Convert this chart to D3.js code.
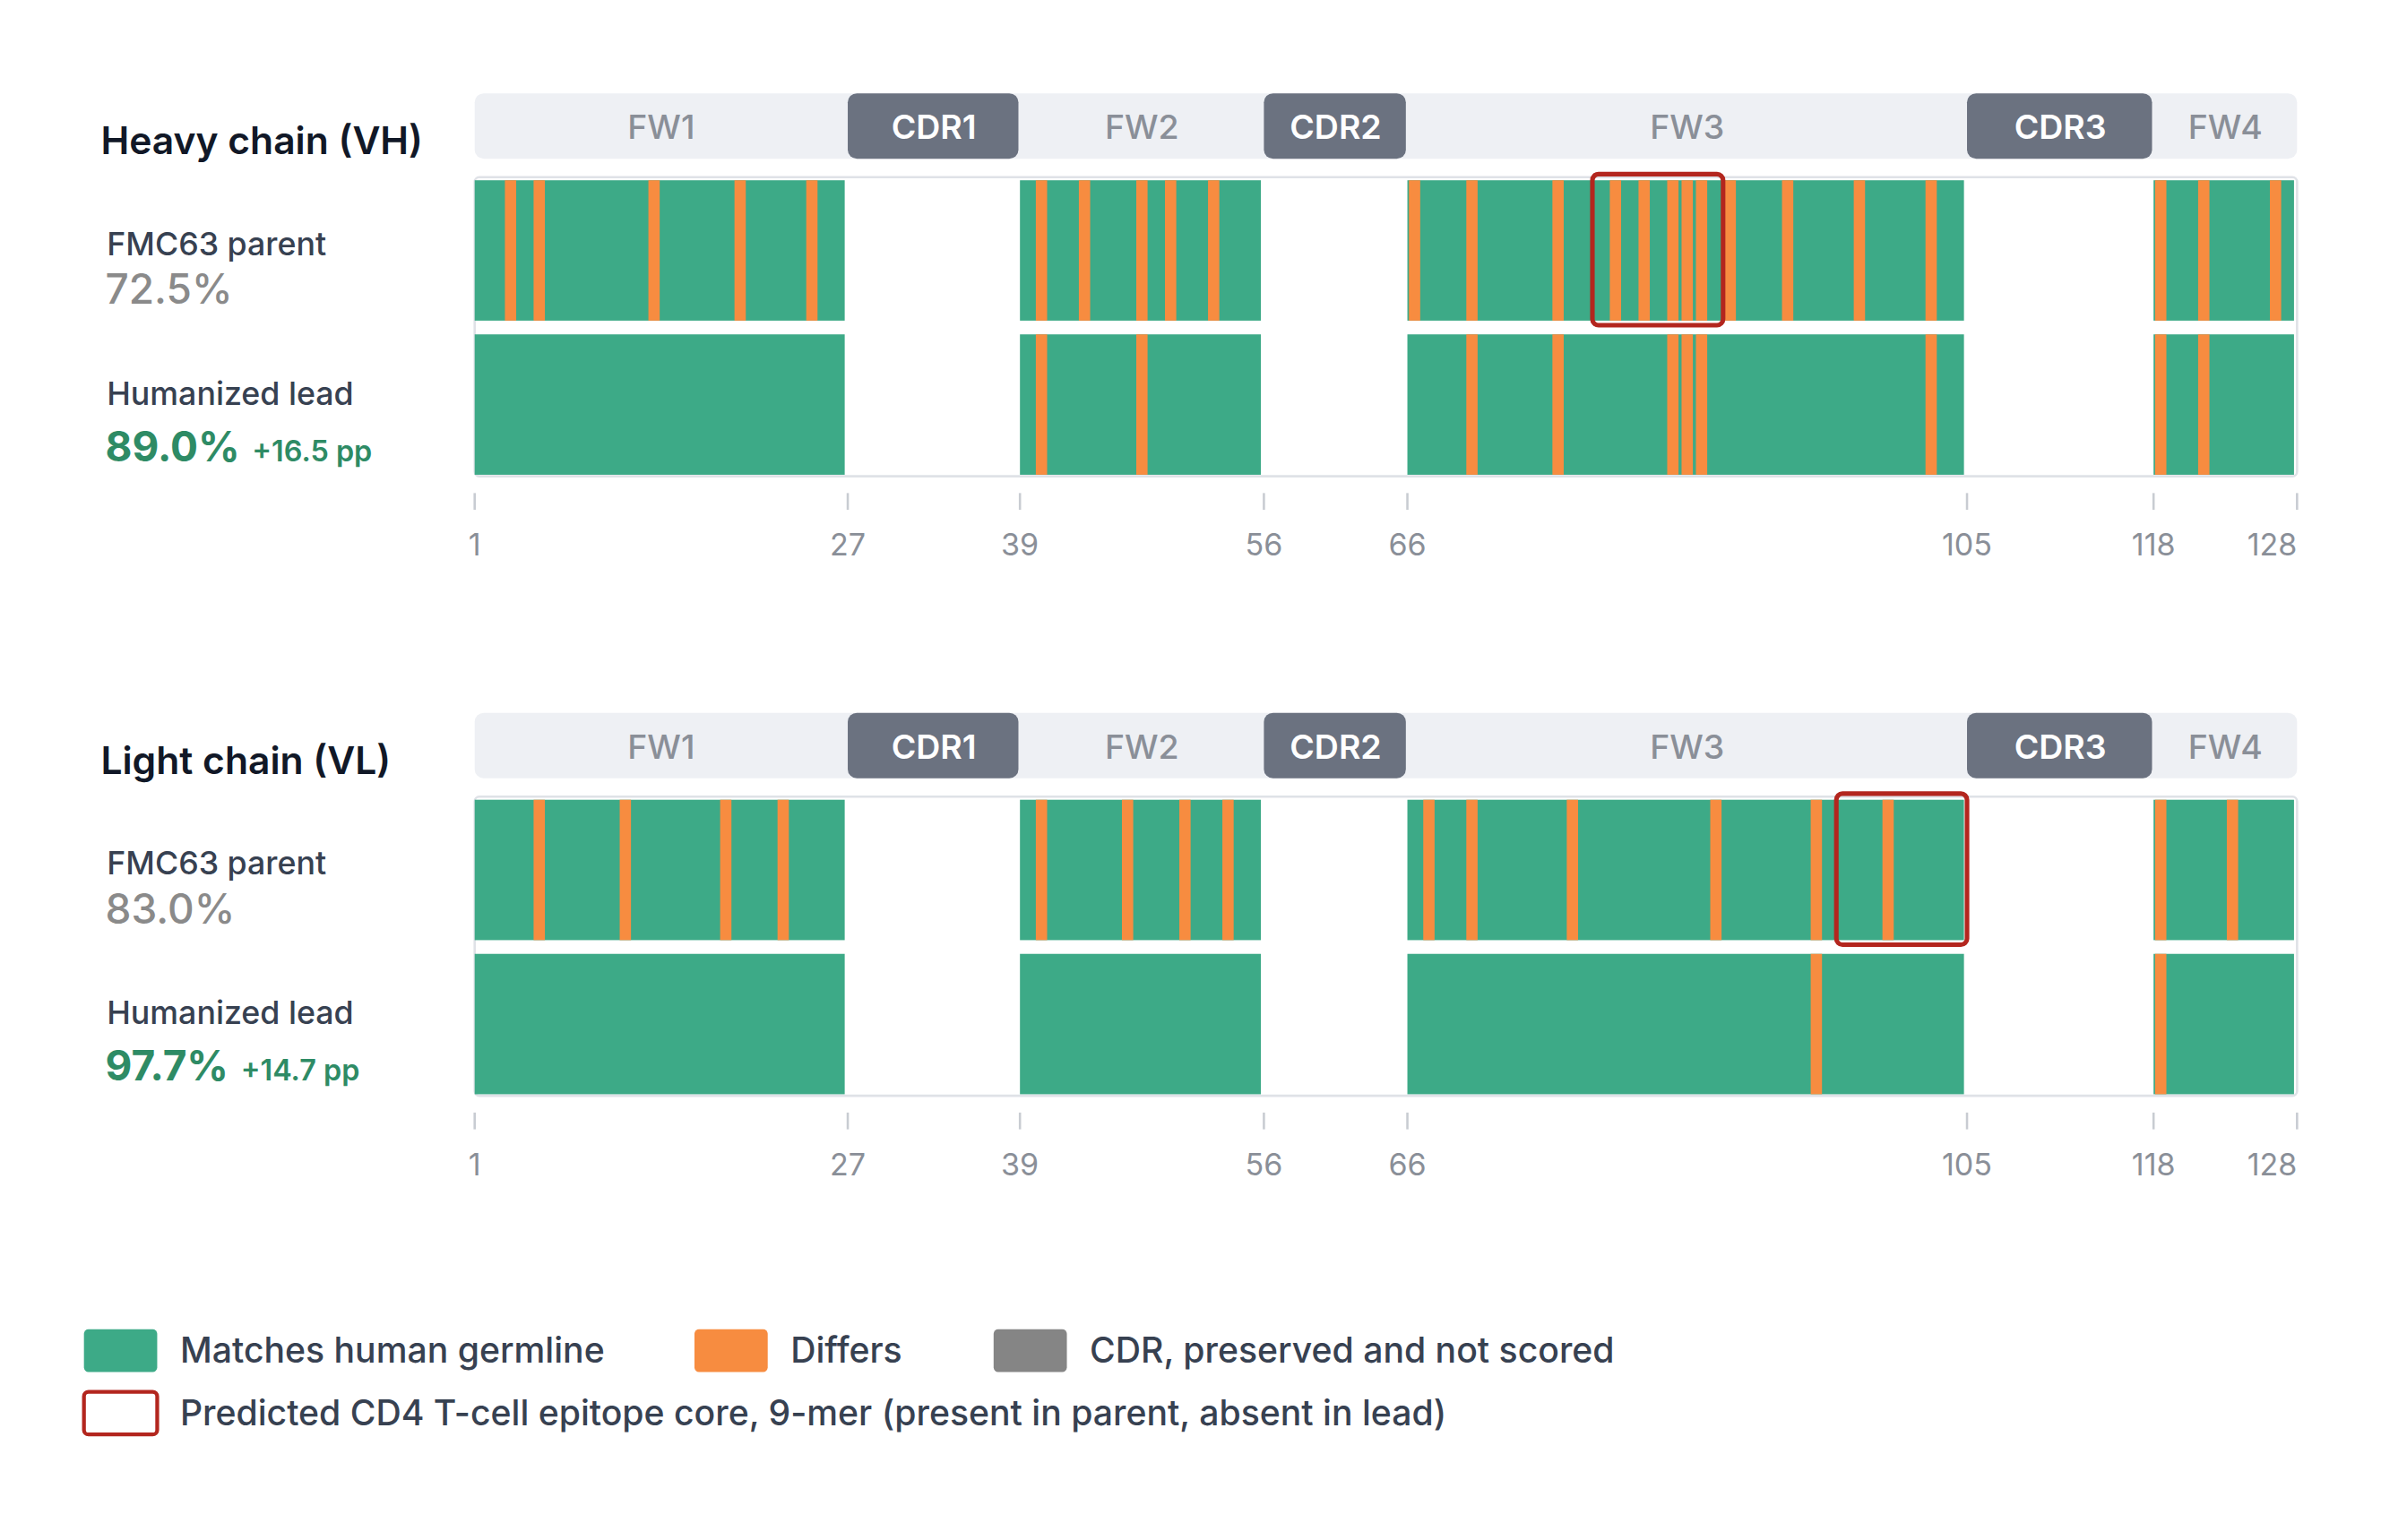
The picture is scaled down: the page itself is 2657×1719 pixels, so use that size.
<!DOCTYPE html>
<html><head><meta charset="utf-8">
<script src="https://cdn.jsdelivr.net/npm/d3@7"></script>
<style>body{margin:0;background:#fff}svg{font-family:Inter,"Noto Sans",sans-serif}</style>
</head><body><svg id="c" width="2657" height="1719" viewBox="0 0 1560 1009"></svg>
<script>
const regions = [
  {name:"FW1",start:1,end:26,cdr:false},{name:"CDR1",start:27,end:38,cdr:true},
  {name:"FW2",start:39,end:55,cdr:false},{name:"CDR2",start:56,end:65,cdr:true},
  {name:"FW3",start:66,end:104,cdr:false},{name:"CDR3",start:105,end:117,cdr:true},
  {name:"FW4",start:118,end:128,cdr:false}];
const tickValues = [1,27,39,56,66,105,118,128];
const chains = [
  {title:"Heavy chain (VH)", parentPct:"72.5%", leadPct:"89.0%", gain:"+16.5 pp",
   parentDiff:[3,5,13,19,24,40,43,47,49,52,66,70,76,80,82,84,85,86,88,92,97,102,118,121,126],
   leadDiff:[40,47,70,76,84,85,86,102,118,121], epitope:[79,87]},
  {title:"Light chain (VL)", parentPct:"83.0%", leadPct:"97.7%", gain:"+14.7 pp",
   parentDiff:[5,11,18,22,40,46,50,53,67,70,77,87,94,99,118,123],
   leadDiff:[94,118], epitope:[96,104]}];
const legendItems = [
  {label:"Matches human germline", color:"#3daa87"},
  {label:"Differs", color:"#f78c40"},
  {label:"CDR, preserved and not scored", color:"#858585"}];

const GREEN="#3daa87", ORANGE="#f78c40", DARK="#6b7280";
const svg = d3.select("#c");
const x = d3.scaleLinear().domain([1,128]).range([311,1505]);
const xe = v => Math.min(x(v), x(128));

chains.forEach((c,ci)=>{
  const g = svg.append("g").attr("transform",`translate(0,${ci*406})`);
  // header
  g.append("rect").attr("x",x(1)).attr("y",61).attr("width",x(128)-x(1)).attr("height",43).attr("rx",6).attr("fill","#eef0f4");
  regions.forEach(r=>{
    const x0=x(r.start), x1=xe(r.end+1);
    if(r.cdr) g.append("rect").attr("x",x0).attr("y",61).attr("width",x1-x0-1).attr("height",43).attr("rx",6).attr("fill",DARK);
    g.append("text").attr("x",(x0+x1)/2).attr("y",91).attr("text-anchor","middle")
      .attr("font-size",22).attr("font-weight",r.cdr?600:500).attr("fill",r.cdr?"#fff":"#8a8f98").text(r.name);
  });
  // border
  g.append("rect").attr("x",x(1)).attr("y",116).attr("width",x(128)-x(1)).attr("height",196).attr("rx",3)
    .attr("fill","none").attr("stroke","#dfe2e7").attr("stroke-width",1.5);
  const rows=[{y:118,diff:c.parentDiff},{y:219,diff:c.leadDiff}];
  rows.forEach(row=>{
    regions.filter(r=>!r.cdr).forEach(r=>{
      g.append("rect").attr("x",x(r.start)).attr("y",row.y).attr("width",xe(r.end+1)-x(r.start)-2).attr("height",92).attr("fill",GREEN);
    });
    row.diff.forEach(p=>{
      g.append("rect").attr("x",x(p)+1).attr("y",row.y).attr("width",Math.min(xe(p+1),x(128))-x(p)-2).attr("height",92).attr("fill",ORANGE);
    });
  });
  // epitope box
  g.append("rect").attr("x",x(c.epitope[0])-1).attr("y",114).attr("width",x(c.epitope[1]+1)-x(c.epitope[0])+1)
    .attr("height",99).attr("rx",4).attr("fill","none").attr("stroke","#b3261e").attr("stroke-width",3);
  // axis
  tickValues.forEach(t=>{
    g.append("line").attr("x1",x(t)).attr("x2",x(t)).attr("y1",323).attr("y2",334).attr("stroke","#c8ccd2").attr("stroke-width",1.5);
    g.append("text").attr("x",x(t)).attr("y",364).attr("text-anchor",t===128?"end":"middle").attr("dx",t===128?0:(t===1?0:0))
      .attr("font-size",20).attr("fill","#8a8f98").text(t);
  });
  // labels
  g.append("text").attr("x",66).attr("y",101).attr("font-size",25).attr("font-weight",600).attr("fill","#111827").text(c.title);
  g.append("text").attr("x",70).attr("y",167).attr("font-size",21).attr("font-weight",500).attr("fill","#374151").text("FMC63 parent");
  g.append("text").attr("x",69).attr("y",199).attr("font-size",27).attr("font-weight",500).attr("fill","#8a8a8a").text(c.parentPct);
  g.append("text").attr("x",70).attr("y",265).attr("font-size",21).attr("font-weight",500).attr("fill","#374151").text("Humanized lead");
  const t=g.append("text").attr("x",69).attr("y",302).attr("fill","#2e8b65");
  t.append("tspan").attr("font-size",27).attr("font-weight",700).text(c.leadPct);
  t.append("tspan").attr("font-size",19).attr("font-weight",600).attr("dx",8).text(c.gain);
});
// legend
const lx=[55,455,651];
legendItems.forEach((l,i)=>{
  svg.append("rect").attr("x",lx[i]).attr("y",871).attr("width",48).attr("height",28).attr("rx",3).attr("fill",l.color);
  svg.append("text").attr("x",lx[i]+63).attr("y",893).attr("font-size",23).attr("font-weight",500).attr("fill","#374151").text(l.label);
});
svg.append("rect").attr("x",55).attr("y",912).attr("width",48).attr("height",28).attr("rx",3).attr("fill","#fff").attr("stroke","#b3261e").attr("stroke-width",2.5);
svg.append("text").attr("x",118).attr("y",934).attr("font-size",23).attr("font-weight",500).attr("fill","#374151").text("Predicted CD4 T-cell epitope core, 9-mer (present in parent, absent in lead)");
</script></body></html>
